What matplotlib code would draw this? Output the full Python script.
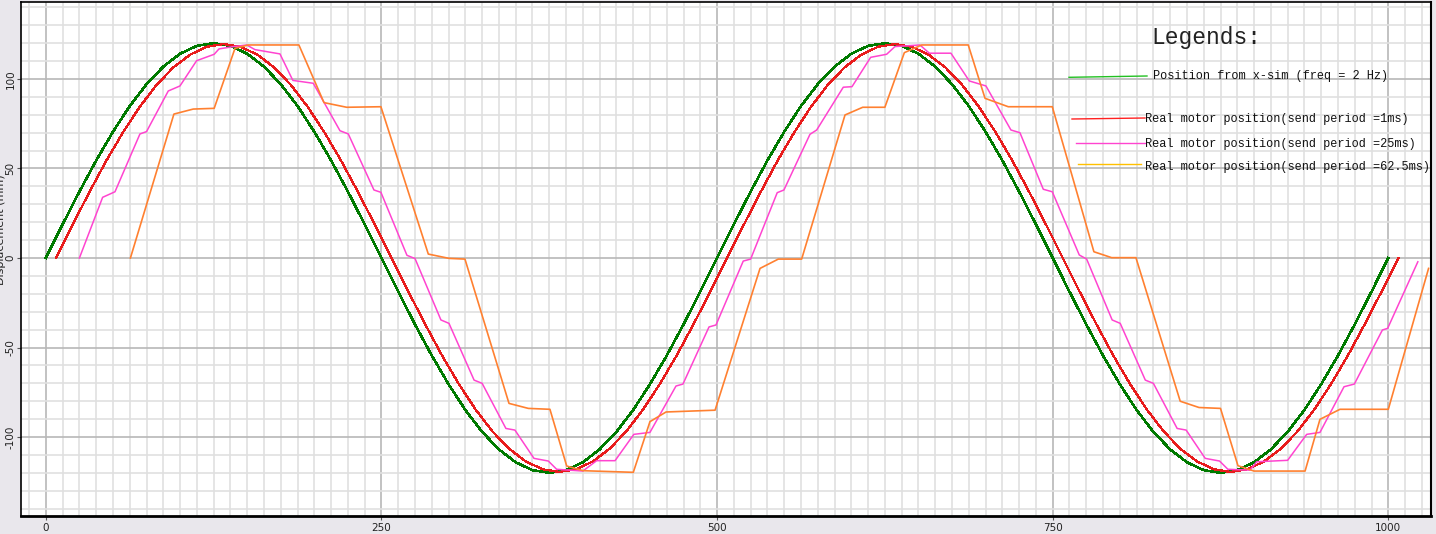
import numpy as np
import matplotlib
matplotlib.use('Agg')
import matplotlib.pyplot as plt
from matplotlib.lines import Line2D
from matplotlib.ticker import MultipleLocator

plt.rcParams['axes.unicode_minus'] = False

W, H = 1436, 534

# position from x-sim (2 Hz), read every 12.5 ms
sim_t = np.arange(0, 1000.1, 12.5)
sim_pos = [0, 18.8, 37.1, 54.5, 70.5, 84.9, 97.1, 106.9, 114.1, 118.5, 120,
           118.5, 114.1, 106.9, 97.1, 84.9, 70.5, 54.5, 37.1, 18.8, 0,
           -18.8, -37.1, -54.5, -70.5, -84.9, -97.1, -106.9, -114.1, -118.5, -120,
           -118.5, -114.1, -106.9, -97.1, -84.9, -70.5, -54.5, -37.1, -18.8, 0,
           18.8, 37.1, 54.5, 70.5, 84.9, 97.1, 106.9, 114.1, 118.5, 120,
           118.5, 114.1, 106.9, 97.1, 84.9, 70.5, 54.5, 37.1, 18.8, 0,
           -18.8, -37.1, -54.5, -70.5, -84.9, -97.1, -106.9, -114.1, -118.5, -120,
           -118.5, -114.1, -106.9, -97.1, -84.9, -70.5, -54.5, -37.1, -18.8, 0]

# real motor position, send period 1 ms
m1_t = np.arange(7.5, 1008, 12.5)
m1_pos = [0, 18.7, 36.9, 54.3, 70.2, 84.5, 96.7, 106.5, 113.6, 118.0, 119.5,
          118.0, 113.6, 106.5, 96.7, 84.5, 70.2, 54.3, 36.9, 18.7, 0,
          -18.7, -36.9, -54.3, -70.2, -84.5, -96.7, -106.5, -113.6, -118.0, -119.5,
          -118.0, -113.6, -106.5, -96.7, -84.5, -70.2, -54.3, -36.9, -18.7, 0,
          18.7, 36.9, 54.3, 70.2, 84.5, 96.7, 106.5, 113.6, 118.0, 119.5,
          118.0, 113.6, 106.5, 96.7, 84.5, 70.2, 54.3, 36.9, 18.7, 0,
          -18.7, -36.9, -54.3, -70.2, -84.5, -96.7, -106.5, -113.6, -118.0, -119.5,
          -118.0, -113.6, -106.5, -96.7, -84.5, -70.2, -54.3, -36.9, -18.7, 0]

# real motor position, send period 25 ms
m25_t = [25, 42.3, 51.5, 70.1, 75, 91.2, 99.9, 112.3, 125.4, 129, 139, 149.6,
         155.8, 174.4, 184, 199.2, 219.1, 225.3, 244.4, 249.6, 269, 275,
         294.3, 300.3, 319, 325, 342.7, 349.4, 363.6, 374.3, 380.5, 400,
         410.3, 424, 438, 450, 469.4, 474.6, 494, 499.2, 519.5, 525,
         544.8, 549.8, 569.2, 574.2, 594, 600.5, 614.4, 626.3, 632.5, 651.1,
         658.1, 674.2, 687.9, 700.3, 718.9, 725.6, 743, 749.7, 769.8, 775.3,
         794.3, 800.3, 819, 825, 842.7, 849.4, 863.6, 874.3, 880.5, 897,
         902, 925, 939.2, 949.1, 967, 974.7, 995.6, 999.5, 1022]
m25_pos = [0, 33.9, 37, 69.3, 70.6, 93.3, 96.1, 110.2, 113.8, 116.8, 118, 119,
           116.4, 114, 99.2, 97.6, 71.1, 69.3, 38, 36.7, 1.5, -0.3,
           -34.6, -36.5, -68.2, -70, -95.2, -96.1, -111.9, -113.4, -118, -119,
           -113.2, -113.2, -98.5, -97.4, -71.5, -70.4, -38.5, -37.4, -1.7, -0.6,
           36.5, 38, 69.1, 71.5, 95.4, 95.7, 112.1, 113.8, 118.1, 119,
           114.4, 114.4, 98.9, 96.1, 71.5, 70, 38.4, 37, 1.7, -0.6,
           -34.6, -36.5, -68.2, -70, -95.2, -96.1, -111.9, -113.4, -118, -118.5,
           -113.8, -113, -98.5, -97.4, -71.9, -70.4, -40.2, -39.3, -2.1]

# real motor position, send period 62.5 ms
m62_t = [63, 95.4, 109.8, 125.4, 140.9, 150.8, 188.5, 207.2, 224.1, 249.6,
         284.9, 300.3, 312.2, 345, 359.4, 375.5, 388, 400.3, 437.6, 450,
         462, 498.5, 532, 545.6, 563, 595.3, 608.5, 625, 639.5, 652.4,
         687.1, 699.6, 716.9, 749.7, 780.7, 793.9, 812, 845, 859, 875,
         888, 900, 938, 949.1, 964, 1000, 1030]
m62_pos = [0, 80.4, 83.2, 83.6, 117.1, 119, 119, 86.8, 84.2, 84.5,
           2.2, -0.2, -0.6, -81.2, -84, -84.5, -116.2, -118.8, -119.7, -91.4,
           -86, -85, -5.8, -0.6, -0.6, 79.9, 84.2, 84.2, 114.7, 119,
           119, 89.2, 84.5, 84.5, 3.5, 0.2, 0.2, -80, -83.5, -84,
           -116, -119, -119, -90.1, -84.5, -84.5, -5.8]

x_ticks = [0, 250, 500, 750, 1000]
y_ticks = [-100, -50, 0, 50, 100]
legend_labels = ['Position from x-sim (freq = 2 Hz)',
                 'Real motor position(send period =1ms)',
                 'Real motor position(send period =25ms)',
                 'Real motor position(send period =62.5ms)']


def px(x, y):
    # pixel position in the image -> figure fraction
    return x / W, 1 - y / H


fig = plt.figure(figsize=(W / 100, H / 100), dpi=100, facecolor='#e9e7ec')
ax = fig.add_axes([21 / W, 18 / H, 1410 / W, 514 / H])
ax.set_facecolor('white')

ax.plot(sim_t, sim_pos, color='#007a00', lw=1.1, antialiased=False, zorder=3)
ax.plot(m1_t, m1_pos, color='#e81c1c', lw=0.9, antialiased=False, zorder=4)
ax.plot(m25_t, m25_pos, color='#ff44d0', lw=1.1, zorder=5)
ax.plot(m62_t, m62_pos, color='#ff8030', lw=1.2, zorder=6)

ax.set_xlim(-18.5, 1031.8)
ax.set_ylim(-144.1, 143.0)
ax.set_xticks(x_ticks)
ax.set_yticks(y_ticks)
ax.xaxis.set_minor_locator(MultipleLocator(12.5))
ax.yaxis.set_minor_locator(MultipleLocator(10))
ax.grid(which='major', color='#b8b8b8', lw=1.2)
ax.grid(which='minor', color='#e0e0e0', lw=1.2)
ax.set_axisbelow(True)

tick_font = ['Liberation Sans Narrow', 'DejaVu Sans']
ax.tick_params(which='minor', length=0)
ax.tick_params(which='major', length=3, width=0.8, color='#555555',
               labelcolor='#222222', labelsize=7.5, pad=2)
ax.tick_params(axis='y', pad=1)
for lab in ax.get_xticklabels():
    lab.set_family(tick_font)
for lab in ax.get_yticklabels():
    lab.set_family(tick_font)
    lab.set_rotation(90)
    lab.set_va('center')

for side in ['left', 'bottom', 'top', 'right']:
    ax.spines[side].set_color('black')
ax.spines['bottom'].set_linewidth(2)
ax.spines['left'].set_linewidth(1.2)
ax.spines['top'].set_linewidth(1.2)
ax.spines['right'].set_linewidth(1.5)

# y label, partly cut by the left edge as in the source screenshot
fig.text(*px(1.5, 230), 'Displacement (mm)', rotation=90, ha='center',
         va='center', fontsize=8, color='#222222')

# hand drawn legend
mono = ['Liberation Mono', 'DejaVu Sans Mono']
fig.text(*px(1151, 37), 'Legends:', fontsize=16.5, family=mono,
         va='center', ha='left', color='#222222')

leg_lines = [((1069, 1147), (77.3, 76), '#22c022'),
             ((1072, 1145), (119, 118), '#ff2020'),
             ((1076, 1145), (143.3, 143.3), '#ff44d0'),
             ((1078, 1141), (164.3, 164.3), '#ffc000')]
leg_text_pos = [(1153, 76), (1145, 119), (1145, 143.5), (1145, 167.5)]

for (xs, ys, col), (tx, ty), label in zip(leg_lines, leg_text_pos, legend_labels):
    p0 = px(xs[0], ys[0])
    p1 = px(xs[1], ys[1])
    fig.add_artist(Line2D([p0[0], p1[0]], [p0[1], p1[1]], color=col, lw=1.0,
                          transform=fig.transFigure, zorder=7))
    fig.text(*px(tx, ty), label, fontsize=8.6, family=mono, va='center',
             ha='left', color='#111111', zorder=8)

plt.savefig('out.png', dpi=100, facecolor=fig.get_facecolor())
print('saved out.png')
